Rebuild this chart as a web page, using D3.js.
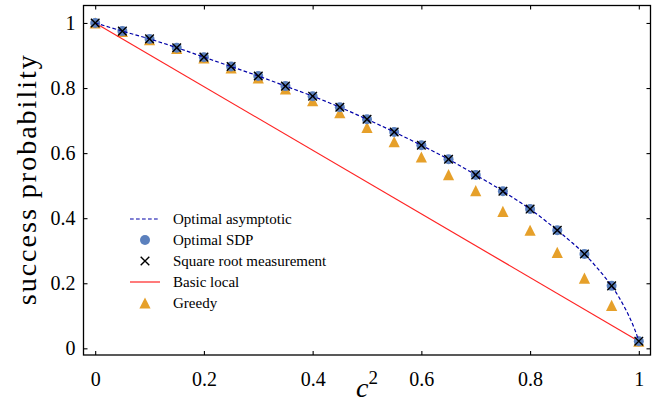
<!DOCTYPE html>
<html><head><meta charset="utf-8">
<script src="https://cdn.jsdelivr.net/npm/d3@7"></script>
<style>
body{margin:0;background:#fff;}
text{font-family:"Liberation Serif","Times New Roman",serif;}
</style></head>
<body><svg id="c" width="659" height="407"></svg>
<script>
const cSq = [0,0.05,0.1,0.15,0.2,0.25,0.3,0.35,0.4,0.45,0.5,0.55,0.6,0.65,0.7,0.75,0.8,0.85,0.9,0.95,1.0];
const optimalSDP = [1,0.975,0.951,0.924,0.895,0.866,0.837,0.806,0.775,0.741,0.704,0.665,0.624,0.581,0.533,0.483,0.428,0.363,0.29,0.192,0.022];
const squareRoot = [1,0.975,0.951,0.924,0.895,0.866,0.837,0.806,0.775,0.741,0.704,0.665,0.624,0.581,0.533,0.483,0.428,0.363,0.29,0.192,0.022];
const greedy = [1,0.974,0.949,0.922,0.893,0.862,0.831,0.797,0.761,0.724,0.679,0.635,0.588,0.534,0.485,0.421,0.363,0.295,0.216,0.132,0.022];
const asymX = [0,0.05,0.1,0.15,0.2,0.25,0.3,0.35,0.4,0.45,0.5,0.55,0.6,0.65,0.7,0.75,0.8,0.85,0.875,0.9,0.925,0.95,0.97,0.985,0.995,1.0];
const asymY = [1,0.975,0.951,0.924,0.895,0.866,0.837,0.806,0.775,0.741,0.704,0.665,0.624,0.581,0.533,0.483,0.428,0.363,0.328,0.29,0.244,0.192,0.138,0.088,0.047,0.022];
const basicX = [0,1];
const basicY = [1,0.022];
const xTicks = [0,0.2,0.4,0.6,0.8,1];
const yTicks = [0,0.2,0.4,0.6,0.8,1];
const legendLabels = ["Optimal asymptotic","Optimal SDP","Square root measurement","Basic local","Greedy"];

const svg = d3.select("#c");
const L=83.5, R=650.5, T=5.5, B=355;
const x = d3.scaleLinear().domain([-0.0215,1.0215]).range([L,R]);
const y = d3.scaleLinear().domain([-0.0205,1.0537]).range([B,T]);

const colBlue="#0000a8", colRed="#ff2424", colDot="#5b80bd", colTri="#e6a02a";

const tri = () => { const h=5.6; return `M0,${-h}L${h},${h}L${-h},${h}Z`; };
svg.append("g").selectAll("path").data(cSq.map((c,i)=>[c,greedy[i]])).join("path")
  .attr("d",tri()).attr("fill",colTri)
  .attr("transform",d=>`translate(${x(d[0])},${y(d[1])})`);

svg.append("path").datum(basicX.map((c,i)=>[c,basicY[i]]))
  .attr("d",d3.line().x(d=>x(d[0])).y(d=>y(d[1])))
  .attr("fill","none").attr("stroke",colRed).attr("stroke-width",1.2);

svg.append("g").selectAll("circle").data(cSq.map((c,i)=>[c,optimalSDP[i]])).join("circle")
  .attr("cx",d=>x(d[0])).attr("cy",d=>y(d[1])).attr("r",5).attr("fill",colDot);

svg.append("path").datum(asymX.map((c,i)=>[c,asymY[i]]))
  .attr("d",d3.line().curve(d3.curveCatmullRom.alpha(0.5)).x(d=>x(d[0])).y(d=>y(d[1])))
  .attr("fill","none").attr("stroke",colBlue).attr("stroke-width",1.2).attr("stroke-dasharray","3.7,2.3");

const xm = 4.3;
const crossPath = `M${-xm},${-xm}L${xm},${xm}M${-xm},${xm}L${xm},${-xm}`;
svg.append("g").selectAll("path").data(cSq.map((c,i)=>[c,squareRoot[i]])).join("path")
  .attr("d",crossPath).attr("stroke","#000").attr("stroke-width",1.4).attr("fill","none")
  .attr("transform",d=>`translate(${x(d[0])},${y(d[1])})`);

svg.append("rect").attr("x",L).attr("y",T).attr("width",R-L).attr("height",B-T)
  .attr("fill","none").attr("stroke","#000").attr("stroke-width",1.3);

const fmt = d => d===0?"0":d===1?"1":d3.format(".1f")(d);
const ax = svg.append("g").attr("transform",`translate(0,${B})`)
  .call(d3.axisBottom(x).tickValues(xTicks).tickSizeInner(-4).tickSizeOuter(0).tickFormat(fmt));
const axT = svg.append("g").attr("transform",`translate(0,${T})`)
  .call(d3.axisTop(x).tickValues(xTicks).tickSizeInner(-4).tickSizeOuter(0).tickFormat(""));
const ay = svg.append("g").attr("transform",`translate(${L},0)`)
  .call(d3.axisLeft(y).tickValues(yTicks).tickSizeInner(-4).tickSizeOuter(0).tickPadding(8).tickFormat(fmt));
const ayR = svg.append("g").attr("transform",`translate(${R},0)`)
  .call(d3.axisRight(y).tickValues(yTicks).tickSizeInner(-4).tickSizeOuter(0).tickFormat(""));
[ax,axT,ay,ayR].forEach(g=>{ g.select(".domain").remove(); g.selectAll("line").attr("stroke","#000").attr("stroke-width",1.1);
  g.selectAll("text").attr("font-family","Liberation Serif, serif").attr("font-size",20).attr("fill","#000"); });
ax.selectAll("text").attr("y",31).attr("dy",0);
ay.selectAll("text").attr("dy","0.33em");

svg.append("text").attr("transform",`translate(36,${(T+B)/2}) rotate(-90)`)
  .attr("text-anchor","middle").attr("font-size",28).attr("textLength",250).attr("lengthAdjust","spacing")
  .text("success probability");
const xl = svg.append("text").attr("x",(L+R)/2).attr("y",397).attr("text-anchor","middle").attr("font-size",28);
xl.append("tspan").attr("font-style","italic").text("c");
xl.append("tspan").attr("dy",-13).attr("font-size",19).text("2");

const lg = svg.append("g");
const rows=[219,240,261,282,303];
const lx0=130, lx1=160, lxc=145, tx=173;
lg.append("line").attr("x1",lx0).attr("x2",lx1).attr("y1",rows[0]).attr("y2",rows[0])
  .attr("stroke",colBlue).attr("stroke-width",1.2).attr("stroke-dasharray","3.7,2.3");
lg.append("circle").attr("cx",lxc).attr("cy",rows[1]).attr("r",5).attr("fill",colDot);
lg.append("path").attr("d",crossPath).attr("transform",`translate(${lxc},${rows[2]})`).attr("stroke","#000").attr("stroke-width",1.4);
lg.append("line").attr("x1",lx0).attr("x2",lx1).attr("y1",rows[3]).attr("y2",rows[3]).attr("stroke",colRed).attr("stroke-width",1.2);
lg.append("path").attr("d",tri()).attr("transform",`translate(${lxc},${rows[4]})`).attr("fill",colTri);
lg.selectAll("text.l").data(legendLabels).join("text").attr("class","l")
  .attr("x",tx).attr("y",(d,i)=>rows[i]).attr("dy","0.35em").attr("font-size",15).text(d=>d);
</script></body></html>
